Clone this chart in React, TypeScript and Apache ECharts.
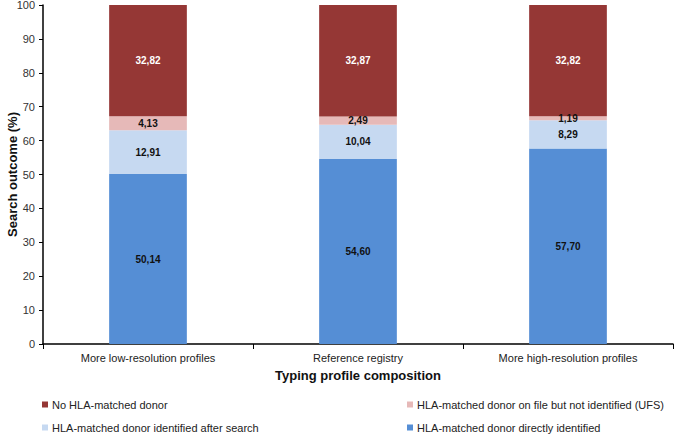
import React, { useEffect, useRef } from "react";
import * as echarts from "echarts";

const categories = ["More low-resolution profiles", "Reference registry", "More high-resolution profiles"];
const directlyIdentified = [50.14, 54.6, 57.7];
const afterSearch = [12.91, 10.04, 8.29];
const ufs = [4.13, 2.49, 1.19];
const noMatch = [32.82, 32.87, 32.82];
const yTicks = [0, 10, 20, 30, 40, 50, 60, 70, 80, 90, 100];

const seriesNames = [
  "HLA-matched donor directly identified",
  "HLA-matched donor identified after search",
  "HLA-matched donor on file but not identified (UFS)",
  "No HLA-matched donor",
];

const fmt = (p: any) => Number(p.value).toFixed(2).replace(".", ",");

export default function App() {
  const ref = useRef<HTMLDivElement>(null);
  useEffect(() => {
    const chart = echarts.init(ref.current!, null, { renderer: "svg" });
    const font = "'Liberation Sans', Arial, sans-serif";
    const mk = (name: string, data: number[], color: string, labelColor: string) => ({
      name,
      type: "bar",
      stack: "total",
      data,
      barWidth: "37%",
      itemStyle: { color },
      label: {
        show: true,
        position: "inside",
        formatter: fmt,
        color: labelColor,
        fontSize: 10,
        fontWeight: "bold",
        fontFamily: font,
      },
    });
    const lg = (name: string, left: number, top: number) => ({
      data: [name],
      orient: "horizontal",
      left,
      top,
      padding: 0,
      itemWidth: 6,
      itemHeight: 6,
      itemGap: 4,
      icon: "rect",
      textStyle: { fontSize: 11, color: "#222", fontFamily: font, padding: [0, 0, 0, -1] },
    });
    chart.setOption({
      animation: false,
      textStyle: { fontFamily: font },
      grid: { left: 43, right: 12, top: 5, bottom: 93, containLabel: false, outerBoundsMode: "none" },
      legend: [
        lg(seriesNames[3], 42, 399),
        lg(seriesNames[1], 42, 422),
        lg(seriesNames[2], 407, 399),
        lg(seriesNames[0], 407, 422),
      ],
      xAxis: {
        type: "category",
        data: categories,
        name: "Typing profile composition",
        nameLocation: "middle",
        nameGap: 25,
        nameMoveOverlap: false,
        nameTextStyle: { fontSize: 13, fontWeight: "bold", color: "#111", fontFamily: font },
        axisLine: { lineStyle: { color: "#000", width: 1.5 } },
        axisTick: { show: true, length: 5, lineStyle: { color: "#000" } },
        axisLabel: { fontSize: 11, color: "#222", margin: 8, fontFamily: font },
      },
      yAxis: {
        type: "value",
        min: yTicks[0],
        max: yTicks[yTicks.length - 1],
        interval: 10,
        name: "Search outcome (%)",
        nameLocation: "middle",
        nameGap: 24,
        nameMoveOverlap: false,
        nameTextStyle: { fontSize: 13, fontWeight: "bold", color: "#111", fontFamily: font },
        axisLine: { show: true, lineStyle: { color: "#000", width: 1.5 } },
        axisTick: { show: true, length: 4, lineStyle: { color: "#000" } },
        axisLabel: { fontSize: 11, color: "#333", margin: 8, fontFamily: font },
        splitLine: { show: false },
      },
      series: [
        mk(seriesNames[0], directlyIdentified, "#558ED5", "#111"),
        mk(seriesNames[1], afterSearch, "#C6D9F1", "#111"),
        mk(seriesNames[2], ufs, "#E6B9B8", "#111"),
        mk(seriesNames[3], noMatch, "#953735", "#fff"),
      ],
    });
    return () => chart.dispose();
  }, []);
  return <div ref={ref} style={{ width: 685, height: 437, position: "absolute", left: 0, top: 0 }} />;
}
